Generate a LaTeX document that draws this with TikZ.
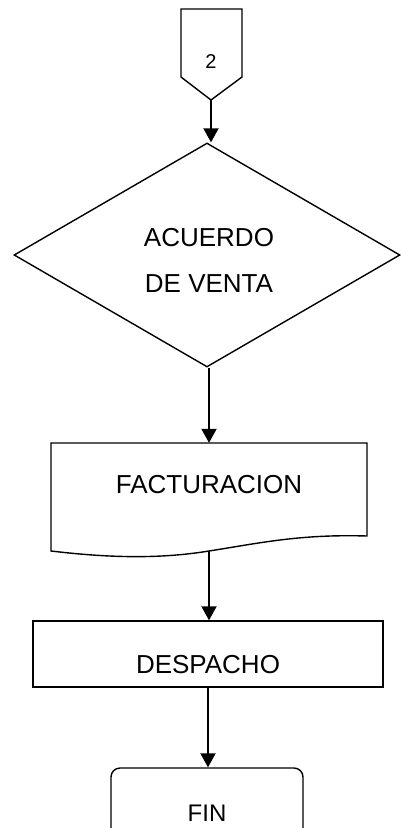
\documentclass[tikz,border=0pt]{standalone}
\usepackage{fontspec}
\setmainfont{Liberation Sans}
\usepackage{tikz}
\usetikzlibrary{positioning, arrows.meta, shapes.geometric}
\definecolor{flowblack}{RGB}{0,0,0}
\tikzset{
  flowline/.style = {draw=flowblack, line width=1.4pt, line join=miter},
  flowbox/.style = {rectangle, flowline, minimum width=350pt, minimum height=66pt,
                    inner sep=0pt},
  flowdec/.style = {diamond, flowline, minimum width=386pt, minimum height=224pt,
                    inner sep=0pt, aspect=1.72},
  flowend/.style = {rectangle, flowline, rounded corners=9pt, minimum width=192pt,
                    minimum height=90pt, inner sep=0pt, font=\fontsize{24}{28}\selectfont},
  flowtext/.style = {font=\fontsize{26}{46}\selectfont, align=center, inner sep=0pt},
  flowarrow/.style = {-{Triangle[width=15pt,length=14pt]}, line width=2pt, draw=flowblack}
}
\begin{document}
\begin{tikzpicture}[x=1pt, y=-1pt]
\path[use as bounding box, clip] (0,0) rectangle (401,828);
% conector de pagina
\draw[flowline] (181,9) -- (242,9) -- (242,77) -- (211,100) -- (181,77) -- cycle;
\node[font=\fontsize{20}{24}\selectfont] (con) at (211,62) {2};
\coordinate (conpt) at (211,100);

% decision
\node[flowdec] (dec) at (207,255) {};
\node[flowtext] (dectxt) at (209,260) {ACUERDO\\DE VENTA};

% documento
\node[flowtext, minimum width=316pt, minimum height=84pt] (fac) at (209,485) {FACTURACION};
\draw[flowline] (51,443) -- (367,443) -- (367,536)
  .. controls (300,534) and (260,543) .. (209,551)
  .. controls (160,559) and (110,558) .. (51,551) -- cycle;
\coordinate (facpt) at (209,551);

% proceso
\node[flowbox] (desp) at (208,654) {};
\node[flowtext] (desptxt) at (208,665) {DESPACHO};

% terminal
\node[flowend] (fin) at (207,813) {FIN};

\draw[flowarrow] (conpt) -- (conpt |- dec.north);
\draw[flowarrow] (dec.south -| facpt) -- (fac.north);
\draw[flowarrow] (facpt) -- (facpt |- desp.north);
\draw[flowarrow] (desp.south) -- (desp.south |- fin.north);
\end{tikzpicture}
\end{document}
